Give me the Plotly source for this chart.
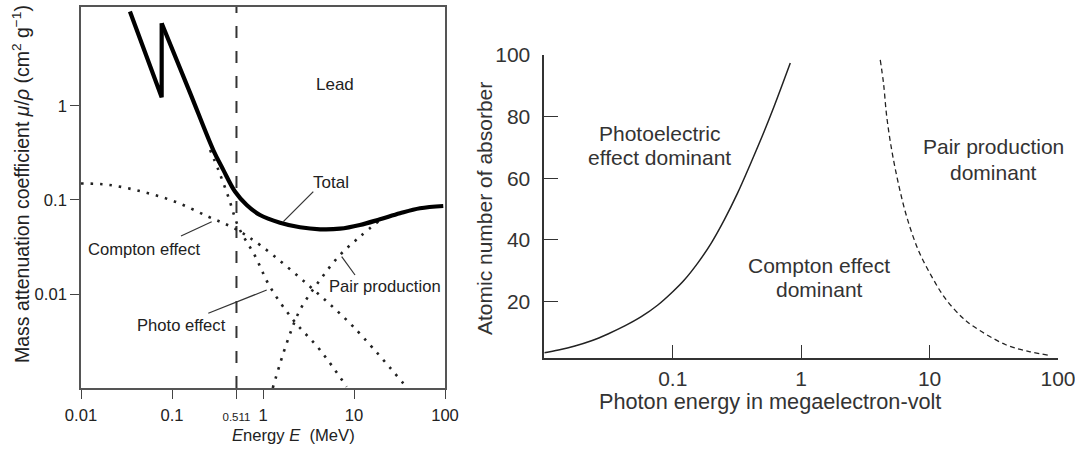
import plotly.graph_objects as go

# ---------------- data: left panel (lead, mass attenuation) ----------------
TOTAL_E = [0.0345, 0.0770, 0.07701, 0.158, 0.284, 0.366, 0.492, 0.662, 0.927,
           1.54, 2.55, 4.23, 7.01, 11.6, 19.3, 32.0, 53.1, 95.7]
TOTAL_MU = [10.1, 1.24, 7.6, 1.38, 0.340, 0.209, 0.123, 0.0885, 0.0692,
            0.0574, 0.0513, 0.0488, 0.0495, 0.0542, 0.0623, 0.0722, 0.0816, 0.0863]
K_EDGE_INDEX = 2  # index of the top of the K-edge jump

COMPTON_E = [0.01, 0.02, 0.0465, 0.108, 0.251, 0.492, 0.968, 3.28, 9.82, 34.8]
COMPTON_MU = [0.150, 0.145, 0.123, 0.096, 0.0664, 0.0495, 0.0322, 0.012, 0.00449, 0.00112]

PHOTO_E = [0.262, 0.323, 0.416, 0.536, 0.817, 1.19, 2.15, 4.23, 8.32]
PHOTO_MU = [0.340, 0.209, 0.108, 0.052, 0.0254, 0.012, 0.00529, 0.00254, 0.00103]

PAIR_E = [1.28, 1.82, 2.55, 4.23, 7.01, 11.6, 19.3]
PAIR_MU = [0.001, 0.00299, 0.00676, 0.0141, 0.026, 0.0407, 0.0612]

THRESHOLD_E = 0.511
LEFT_X_TICKS = [0.01, 0.1, 1, 10, 100]
LEFT_X_TICKTEXT = ["0.01", "0.1", "1", "10", "100"]
THRESHOLD_TICKTEXT = "0.511"
LEFT_Y_TICKS = [0.01, 0.1, 1]
LEFT_Y_TICKTEXT = ["0.01", "0.1", "1"]

# ---------------- data: right panel (dominant interaction regions) ----------------
PE_E = [0.01, 0.0129, 0.0173, 0.0233, 0.0313, 0.0423, 0.0569, 0.0766, 0.1, 0.123,
        0.156, 0.199, 0.252, 0.319, 0.405, 0.514, 0.614, 0.823]
PE_Z = [3.4, 4.3, 5.6, 7.3, 9.5, 12.1, 15.1, 18.9, 23.2, 27.0,
        32.4, 38.9, 46.5, 55.1, 64.9, 75.1, 83.2, 97.4]

PP_E = [4.13, 4.38, 4.64, 5.07, 5.71, 6.63, 8.17, 10.4, 13.2, 17.7, 21.2, 39.2, 59.7, 84.7]
PP_Z = [98.4, 90.8, 80.0, 69.2, 58.4, 47.6, 36.7, 28.1, 21.1, 15.1, 12.4, 6.0, 3.8, 2.6]

RIGHT_X_TICKS = [0.1, 1, 10, 100]
RIGHT_X_TICKTEXT = ["0.1", "1", "10", "100"]
RIGHT_Y_TICKS = [20, 40, 60, 80, 100]

W, H = 1075, 449
FONT = "Liberation Sans, Arial, Helvetica, sans-serif"
LF = 16.6   # left panel text size
RF = 21     # right panel text size


def px(x):
    return x / W


def py(y):
    return 1 - y / H


fig = go.Figure()

DOT = dict(color="#222", width=2.6, dash="2.5px,7px", shape="spline")

# left panel traces
fig.add_trace(go.Scatter(x=[THRESHOLD_E, THRESHOLD_E], y=[0.001, 11.3], mode="lines",
                         line=dict(color="#333", width=2, dash="12px,13px"),
                         xaxis="x", yaxis="y", showlegend=False))
fig.add_trace(go.Scatter(x=COMPTON_E, y=COMPTON_MU, mode="lines", line=DOT,
                         xaxis="x", yaxis="y", showlegend=False))
fig.add_trace(go.Scatter(x=PHOTO_E, y=PHOTO_MU, mode="lines", line=DOT,
                         xaxis="x", yaxis="y", showlegend=False))
fig.add_trace(go.Scatter(x=PAIR_E, y=PAIR_MU, mode="lines", line=DOT,
                         xaxis="x", yaxis="y", showlegend=False))
# total: straight segments up to the K-edge, smooth afterwards
fig.add_trace(go.Scatter(x=TOTAL_E[:K_EDGE_INDEX + 1], y=TOTAL_MU[:K_EDGE_INDEX + 1],
                         mode="lines", line=dict(color="#000", width=4.2),
                         xaxis="x", yaxis="y", showlegend=False))
fig.add_trace(go.Scatter(x=TOTAL_E[K_EDGE_INDEX:], y=TOTAL_MU[K_EDGE_INDEX:],
                         mode="lines", line=dict(color="#000", width=4.2, shape="spline"),
                         xaxis="x", yaxis="y", showlegend=False))

# right panel traces
fig.add_trace(go.Scatter(x=PE_E, y=PE_Z, mode="lines",
                         line=dict(color="#222", width=1.5, shape="spline"),
                         xaxis="x2", yaxis="y2", showlegend=False))
fig.add_trace(go.Scatter(x=PP_E, y=PP_Z, mode="lines",
                         line=dict(color="#222", width=1.3, dash="5px,3.5px", shape="spline"),
                         xaxis="x2", yaxis="y2", showlegend=False))

axis_common = dict(showgrid=False, zeroline=False, automargin=False)

fig.update_layout(
    width=W, height=H,
    margin=dict(l=0, r=0, t=0, b=0, autoexpand=False),
    paper_bgcolor="white", plot_bgcolor="white",
    font=dict(family=FONT, color="#222"),
    xaxis=dict(type="log", range=[-2, 2], domain=[px(81), px(445)], anchor="y",
               tickvals=LEFT_X_TICKS + [THRESHOLD_E],
               ticktext=LEFT_X_TICKTEXT + ['<span style="font-size:11.5px">%s</span>' % THRESHOLD_TICKTEXT],
               ticks="outside", ticklen=9, tickwidth=1.3, tickcolor="#444",
               showline=True, linecolor="#555", linewidth=1.6, mirror=True,
               ticklabelstandoff=2,
               tickfont=dict(size=LF, color="#222"), **axis_common),
    yaxis=dict(type="log", range=[-3, 1.053], domain=[py(388), py(7)], anchor="x",
               tickvals=LEFT_Y_TICKS, ticktext=LEFT_Y_TICKTEXT,
               ticks="outside", ticklen=9, tickwidth=1.3, tickcolor="#444",
               showline=True, linecolor="#555", linewidth=1.6, mirror=True,
               tickfont=dict(size=LF, color="#222"), **axis_common),
    xaxis2=dict(type="log", range=[-2, 2], domain=[px(544.3), px(1058)], anchor="y2",
                tickvals=RIGHT_X_TICKS, ticktext=RIGHT_X_TICKTEXT,
                ticks="inside", ticklen=13, tickwidth=1.3, tickcolor="#333",
                showline=True, linecolor="#333", linewidth=2,
                ticklabelstandoff=0, ticklabeloverflow="allow",
                tickfont=dict(size=RF, color="#333"), **axis_common),
    yaxis2=dict(range=[1.6, 100], domain=[py(358.3), py(55)], anchor="x2",
                tickvals=RIGHT_Y_TICKS,
                ticks="inside", ticklen=14, tickwidth=1.3, tickcolor="#333",
                showline=True, linecolor="#333", linewidth=1.6,
                ticklabelstandoff=8, ticklabeloverflow="allow",
                tickfont=dict(size=RF, color="#333"), **axis_common),
)

ann = []


def label(x, y, text, size=LF, color="#222", angle=0, xanchor="center"):
    ann.append(dict(x=px(x), y=py(y), xref="paper", yref="paper", text=text,
                    showarrow=False, textangle=angle, xanchor=xanchor, yanchor="middle",
                    font=dict(size=size, color=color, family=FONT)))


# left panel texts
label(335, 85, "Lead", size=17)
label(331, 182, "Total", size=17)
label(144, 249, "Compton effect")
label(181, 325, "Photo effect")
label(385, 286, "Pair production")
label(293, 435, "<i>E</i>nergy <i>E</i>  (MeV)")
label(21, 184, "Mass attenuation coefficient <i>μ</i>/<i>ρ</i> (cm<sup>2</sup> g<sup>−1</sup>)",
      size=19.5, angle=-90)

# right panel texts
label(659, 133, "Photoelectric", size=RF, color="#333")
label(659, 157, "effect dominant", size=RF, color="#333")
label(819, 265, "Compton effect", size=RF, color="#333")
label(819, 289, "dominant", size=RF, color="#333")
label(993, 147, "Pair production", size=RF, color="#333")
label(993, 172, "dominant", size=RF, color="#333")
label(770, 401, "Photon energy in megaelectron-volt", size=21.7, color="#333")
label(485, 209, "Atomic number of absorber", size=RF, color="#333", angle=-90)

fig.update_layout(annotations=ann)

# pointer lines (leader lines from labels to curves)
POINTERS = [((313.3, 191.7), (283.3, 221.7)),
            ((181, 236), (211.7, 221.7)),
            ((208.3, 313.3), (266.7, 290)),
            ((341.7, 256.7), (355, 275))]
for (x0, y0), (x1, y1) in POINTERS:
    fig.add_shape(type="line", xref="paper", yref="paper",
                  x0=px(x0), y0=py(y0), x1=px(x1), y1=py(y1),
                  line=dict(color="#333", width=1.2))

fig.write_html("out.html", config={"displayModeBar": False},
               post_script="document.body.style.margin='0';document.body.style.overflow='hidden';")
